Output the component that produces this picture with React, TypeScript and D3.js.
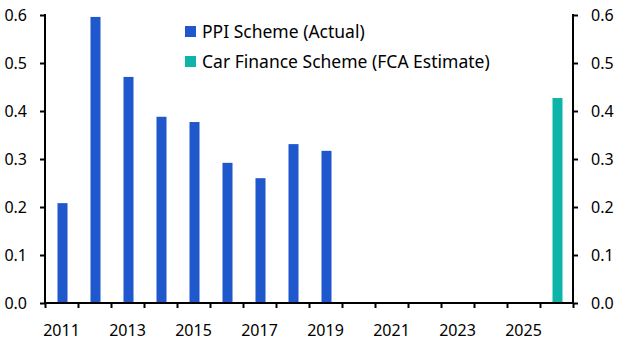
import * as d3 from 'd3';
import React, { useRef, useEffect } from 'react';

const years = d3.range(2011, 2027);
const ppiYears = [2011, 2012, 2013, 2014, 2015, 2016, 2017, 2018, 2019];
const ppiValues = [0.208, 0.596, 0.471, 0.388, 0.377, 0.292, 0.26, 0.331, 0.317];
const carYears = [2026];
const carValues = [0.427];
const yTicks = [0, 0.1, 0.2, 0.3, 0.4, 0.5, 0.6];
const xLabels = [2011, 2013, 2015, 2017, 2019, 2021, 2023, 2025];
const legendLabels = ['PPI Scheme (Actual)', 'Car Finance Scheme (FCA Estimate)'];

const W = 629;
const H = 354;
const left = 45;
const right = 573;
const top = 15;
const bottom = 303;
const blue = '#1f57cc';
const teal = '#0db5a8';
const font = '"Noto Sans", "Open Sans", sans-serif';

const App = () => {
  const ref = useRef<SVGSVGElement>(null);

  useEffect(() => {
    const svg = d3.select(ref.current);
    svg.selectAll('*').remove();

    const x = d3.scaleBand<number>().domain(years).range([left, right]).padding(0);
    const xl = d3.scaleLinear().domain([2010.5, 2026.5]).range([left, right]);
    const y = d3.scaleLinear().domain([0, 0.6]).range([bottom, top]);
    const bw = 10;

    const bars = (ys: number[], vs: number[], color: string) =>
      svg
        .append('g')
        .selectAll('rect')
        .data(ys.map((yr, i) => ({ yr, v: vs[i] })))
        .join('rect')
        .attr('x', (d) => (x(d.yr) as number) + x.bandwidth() / 2 - bw / 2 + 1)
        .attr('y', (d) => y(d.v))
        .attr('width', bw)
        .attr('height', (d) => bottom - y(d.v))
        .attr('fill', color);

    bars(ppiYears, ppiValues, blue);
    bars(carYears, carValues, teal);

    // x axis: ticks at band edges, labels on odd years
    const xAxis = d3
      .axisBottom(xl)
      .tickValues(d3.range(2010.5, 2027.5, 1))
      .tickSize(5)
      .tickFormat(() => '');
    const gx = svg.append('g').attr('transform', `translate(0,${bottom})`).call(xAxis);
    gx.select('.domain').remove();
    gx.selectAll('line').attr('stroke', '#000').attr('stroke-width', 2);
    svg
      .append('line')
      .attr('x1', left - 1)
      .attr('x2', right + 1)
      .attr('y1', bottom)
      .attr('y2', bottom)
      .attr('stroke', '#000')
      .attr('stroke-width', 2);
    svg
      .append('g')
      .selectAll('text')
      .data(xLabels)
      .join('text')
      .attr('x', (d) => xl(d))
      .attr('y', 336)
      .attr('text-anchor', 'middle')
      .attr('font-family', font)
      .attr('font-size', 16)
      .attr('fill', '#000')
      .text((d) => d);

    // y axes
    const yl = d3.axisLeft(y).tickValues(yTicks).tickSize(5).tickPadding(13).tickFormat(d3.format('.1f'));
    const yr = d3.axisRight(y).tickValues(yTicks).tickSize(5).tickPadding(13).tickFormat(d3.format('.1f'));
    [
      svg.append('g').attr('transform', `translate(${left},0)`).call(yl),
      svg.append('g').attr('transform', `translate(${right},0)`).call(yr),
    ].forEach((g) => {
      g.select('.domain').remove();
      g.selectAll('line').attr('stroke', '#000').attr('stroke-width', 2);
      g.selectAll('text').attr('font-family', font).attr('font-size', 16).attr('fill', '#000');
    });
    [left, right].forEach((xx) =>
      svg
        .append('line')
        .attr('x1', xx)
        .attr('x2', xx)
        .attr('y1', top - 1)
        .attr('y2', bottom + 1)
        .attr('stroke', '#000')
        .attr('stroke-width', 2)
    );

    // legend
    const lg = svg.append('g').attr('transform', 'translate(185,26)');
    legendLabels.forEach((lab, i) => {
      lg.append('rect')
        .attr('x', 0)
        .attr('y', i * 30)
        .attr('width', 11)
        .attr('height', 11)
        .attr('fill', i === 0 ? blue : teal);
      lg.append('text')
        .attr('x', 17)
        .attr('y', i * 30 + 12)
        .attr('font-family', font)
        .attr('font-size', 17.5)
        .attr('fill', '#000')
        .text(lab);
    });
  }, []);

  return (
    <svg
      ref={ref}
      width={W}
      height={H}
      style={{ position: 'absolute', left: 0, top: 0, background: '#fff' }}
    />
  );
};

export default App;
